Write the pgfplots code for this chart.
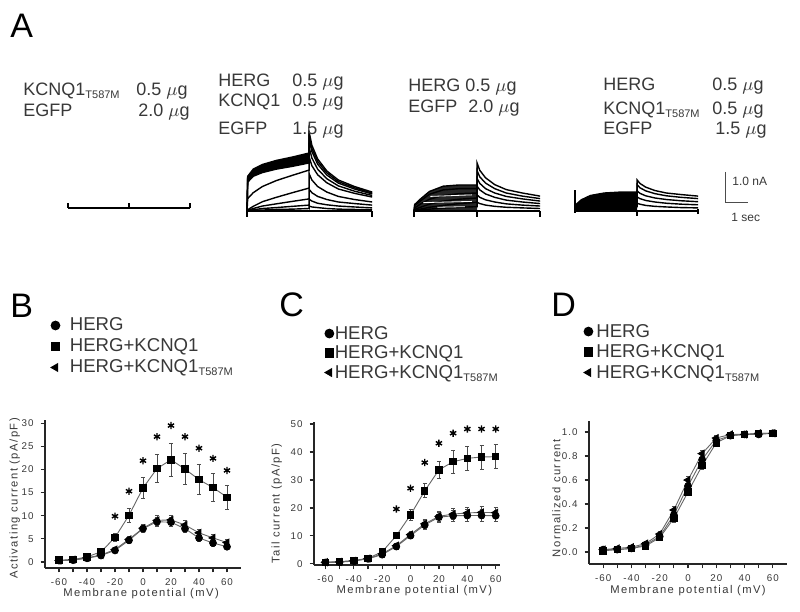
\documentclass[border=0pt]{standalone}
\usepackage{fontspec}
\setmainfont{Liberation Sans}
\newfontfamily\axf[LetterSpace=13]{Liberation Sans}
\newfontfamily\tkf[LetterSpace=10]{Liberation Sans}
\usepackage{pgfplots}
\pgfplotsset{compat=1.18}
\definecolor{txt}{gray}{0.22}
\newcommand\tsub[2]{\raisebox{-#2}{\fontsize{#1}{#1}\selectfont T587M}}
\pgfplotsset{
  panel/.style={
    scale only axis, clip=false,
    axis lines=left, axis line style={-, line width=0.75pt, black!85},
    tick align=outside, tick style={line width=0.6pt, black!85},
    major tick length=2.2pt, minor tick length=2.2pt,
    xmin=-70, xmax=70,
    xtick={-60,-40,-20,0,20,40,60}, xticklabels={-60,-40,-20,0,20,40,60},
    minor xtick={-50,-30,-10,10,30,50},
    tick label style={font=\tkf\fontsize{4.9}{5.5}\selectfont, text=txt},
    xticklabel style={yshift=0.6pt},
    label style={font=\axf\fontsize{5.6}{6.5}\selectfont, text=txt},
    xlabel={Membrane potential (mV)},
    legend cell align=left,
    legend style={draw=none, fill=none, anchor=north west, inner sep=0pt, outer sep=0pt,
      font=\fontsize{9.3}{10}\selectfont, text=txt, nodes={inner sep=0pt},
      /tikz/every even column/.append style={text height=7pt, text depth=2pt}},
    legend image code/.code={\draw[##1, mark size=2.2pt] plot coordinates {(0pt,0pt)};},
  },
  sq/.style={black!60, line width=0.45pt, mark=square*, mark size=1.6pt, mark options={solid, fill=black, draw=black}},
  ci/.style={black!60, line width=0.45pt, mark=*, mark size=1.7pt, mark options={solid, fill=black, draw=black}},
  tr/.style={black!60, line width=0.45pt, mark=triangle*, mark size=2pt, mark options={solid, fill=black, draw=black, rotate=90}},
  eb/.style={error bars/.cd, y dir=both, y explicit, error bar style={line width=0.4pt, black!70}, error mark options={rotate=90, mark size=1pt, line width=0.4pt, black!70}},
  st/.style={only marks, mark=asterisk, mark size=1.8pt, black, line width=0.7pt, forget plot},
  tc/.style={black, line width=0.7pt},
}
\begin{document}
\begin{tikzpicture}
\path[use as bounding box] (0,0) rectangle (400pt,306pt);

% ---------- Panel A: current traces ----------
\begin{axis}[hide axis, scale only axis, clip=false, at={(30pt,191pt)}, anchor=south west,
  width=350pt, height=52.5pt, xmin=0, xmax=30.43, ymin=-0.613, ymax=2.774]
% trace 1: KCNQ1 T587M alone
\addplot[tc] coordinates {(0.35,0.1)(5.65,0.1)};
\addplot[tc] coordinates {(0.35,0.1)(0.35,0.26)};
\addplot[tc] coordinates {(3.0,0.1)(3.0,0.26)};
\addplot[tc] coordinates {(5.65,0.1)(5.65,0.26)};
% trace 2: HERG + KCNQ1
\addplot[black!55, line width=0.5pt] coordinates {(10.83,0)(10.83,2.55)};
\addplot[fill=black, draw=none] coordinates {(8.16,1.12)(8.40,1.35)(8.80,1.50)(9.40,1.63)(10.10,1.74)(10.83,1.87)(10.83,1.55)(10.10,1.44)(9.40,1.35)(8.80,1.24)(8.40,1.12)(8.16,0.93)};
\addplot[tc] coordinates {(8.13,0)(8.16,1.12)(8.40,1.35)(8.80,1.50)(9.40,1.63)(10.10,1.74)(10.83,1.87)(10.83,2.55)(10.95,2.12)(11.20,1.68)(11.60,1.29)(12.10,1.00)(12.80,0.79)(13.57,0.61)};
\addplot[tc] coordinates {(8.13,0)(8.16,1.08)(8.40,1.30)(8.80,1.44)(9.40,1.57)(10.10,1.67)(10.83,1.80)(10.83,2.42)(10.95,2.02)(11.20,1.60)(11.60,1.23)(12.10,0.95)(12.80,0.75)(13.57,0.58)};
\addplot[tc] coordinates {(8.13,0)(8.16,1.03)(8.40,1.24)(8.80,1.38)(9.40,1.50)(10.10,1.60)(10.83,1.72)(10.83,2.30)(10.95,1.92)(11.20,1.51)(11.60,1.16)(12.10,0.90)(12.80,0.71)(13.57,0.55)};
\addplot[tc] coordinates {(8.13,0)(8.16,0.93)(8.40,1.12)(8.80,1.24)(9.40,1.35)(10.10,1.44)(10.83,1.55)(10.83,2.05)(10.95,1.71)(11.20,1.35)(11.60,1.04)(12.10,0.81)(12.80,0.64)(13.57,0.50)};
\addplot[tc] coordinates {(8.13,0)(8.16,0.40)(8.40,0.59)(8.80,0.79)(9.40,0.98)(10.10,1.15)(10.83,1.32)(10.83,1.75)(10.95,1.46)(11.20,1.17)(11.60,0.91)(12.10,0.71)(12.80,0.57)(13.57,0.45)};
\addplot[tc] coordinates {(8.13,0)(8.16,0.04)(8.40,0.15)(8.80,0.30)(9.40,0.44)(10.10,0.59)(10.83,0.74)(10.83,1.20)(10.95,1.00)(11.20,0.79)(11.60,0.61)(12.10,0.47)(12.80,0.37)(13.57,0.29)};
\addplot[tc] coordinates {(8.13,0)(8.16,0.02)(8.40,0.08)(8.80,0.16)(9.40,0.23)(10.10,0.31)(10.83,0.39)(10.83,0.70)(10.95,0.59)(11.20,0.47)(11.60,0.37)(12.10,0.29)(12.80,0.24)(13.57,0.19)};
\addplot[tc] coordinates {(8.13,0)(8.40,0.04)(8.80,0.08)(9.40,0.11)(10.10,0.15)(10.83,0.19)(10.83,0.38)(10.95,0.32)(11.20,0.25)(11.60,0.20)(12.10,0.16)(12.80,0.13)(13.57,0.10)};
\addplot[tc] coordinates {(8.13,0)(8.40,0.02)(8.80,0.03)(9.40,0.05)(10.10,0.06)(10.83,0.08)(10.83,0.16)(10.95,0.13)(11.20,0.11)(11.60,0.08)(12.10,0.06)(12.80,0.05)(13.57,0.04)};
\addplot[black, line width=1.1pt] coordinates {(8.13,0)(13.57,0)};
\addplot[tc] coordinates {(8.13,0)(8.13,-0.18)};
\addplot[tc] coordinates {(13.57,0)(13.57,-0.18)};
% trace 3: HERG alone
\addplot[fill=black!85, draw=none] coordinates {(15.39,0)(15.42,0.21)(15.66,0.38)(16.06,0.63)(16.66,0.80)(17.36,0.84)(18.13,0.84)(18.13,0)};
\addplot[tc] coordinates {(15.39,0)(15.42,0.21)(15.66,0.38)(16.06,0.63)(16.66,0.80)(17.36,0.84)(18.13,0.84)(18.13,1.55)(18.25,1.31)(18.50,1.07)(18.90,0.85)(19.40,0.69)(20.10,0.58)(20.87,0.48)};
\addplot[tc] coordinates {(15.39,0)(15.42,0.18)(15.66,0.32)(16.06,0.54)(16.66,0.68)(17.36,0.72)(18.13,0.72)(18.13,1.30)(18.25,1.10)(18.50,0.90)(18.90,0.72)(19.40,0.58)(20.10,0.48)(20.87,0.40)};
\addplot[tc] coordinates {(15.39,0)(15.42,0.10)(15.66,0.22)(16.06,0.38)(16.66,0.50)(17.36,0.56)(18.13,0.58)(18.13,1.05)(18.25,0.89)(18.50,0.72)(18.90,0.58)(19.40,0.47)(20.10,0.39)(20.87,0.32)};
\addplot[tc] coordinates {(15.39,0)(15.42,0.05)(15.66,0.12)(16.06,0.22)(16.66,0.32)(17.36,0.38)(18.13,0.42)(18.13,0.80)(18.25,0.68)(18.50,0.55)(18.90,0.44)(19.40,0.35)(20.10,0.29)(20.87,0.24)};
\addplot[tc] coordinates {(15.39,0)(15.42,0.02)(15.66,0.06)(16.06,0.12)(16.66,0.18)(17.36,0.24)(18.13,0.28)(18.13,0.52)(18.25,0.44)(18.50,0.36)(18.90,0.29)(19.40,0.23)(20.10,0.19)(20.87,0.16)};
\addplot[tc] coordinates {(15.39,0)(15.66,0.03)(16.06,0.06)(16.66,0.09)(17.36,0.12)(18.13,0.14)(18.13,0.28)(18.25,0.24)(18.50,0.19)(18.90,0.15)(19.40,0.12)(20.10,0.10)(20.87,0.08)};
\addplot[white, line width=0.4pt] coordinates {(15.8,0.27)(17.9,0.31)};
\addplot[white, line width=0.4pt] coordinates {(16.1,0.47)(17.9,0.52)};
\addplot[white, line width=0.4pt] coordinates {(16.4,0.12)(17.6,0.14)};
\addplot[black, line width=1.1pt] coordinates {(15.39,0)(20.87,0)};
\addplot[tc] coordinates {(15.39,0)(15.39,-0.18)};
\addplot[tc] coordinates {(18.13,0)(18.13,-0.18)};
\addplot[tc] coordinates {(20.87,0)(20.87,-0.18)};
% trace 4: HERG + KCNQ1 T587M
\addplot[fill=black, draw=none] coordinates {(22.39,0)(22.42,0.20)(22.66,0.36)(23.06,0.50)(23.66,0.58)(24.36,0.61)(25.09,0.61)(25.09,0)};
\addplot[tc] coordinates {(22.39,0)(22.42,0.20)(22.66,0.36)(23.06,0.50)(23.66,0.58)(24.36,0.61)(25.09,0.61)(25.09,1.00)(25.21,0.89)(25.46,0.77)(25.86,0.66)(26.36,0.58)(27.00,0.53)(27.74,0.48)};
\addplot[tc] coordinates {(22.39,0)(22.42,0.15)(22.66,0.30)(23.06,0.42)(23.66,0.49)(24.36,0.52)(25.09,0.52)(25.09,0.85)(25.21,0.75)(25.46,0.65)(25.86,0.56)(26.36,0.49)(27.00,0.44)(27.74,0.40)};
\addplot[tc] coordinates {(22.39,0)(22.42,0.08)(22.66,0.18)(23.06,0.29)(23.66,0.36)(24.36,0.39)(25.09,0.40)(25.09,0.65)(25.21,0.57)(25.46,0.49)(25.86,0.42)(26.36,0.37)(27.00,0.33)(27.74,0.30)};
\addplot[tc] coordinates {(22.39,0)(22.42,0.03)(22.66,0.08)(23.06,0.15)(23.66,0.21)(24.36,0.25)(25.09,0.27)(25.09,0.45)(25.21,0.40)(25.46,0.34)(25.86,0.29)(26.36,0.25)(27.00,0.22)(27.74,0.20)};
\addplot[tc] coordinates {(22.39,0)(22.66,0.03)(23.06,0.07)(23.66,0.10)(24.36,0.12)(25.09,0.14)(25.09,0.25)(25.21,0.22)(25.46,0.18)(25.86,0.15)(26.36,0.13)(27.00,0.11)(27.74,0.10)};
\addplot[black, line width=1.1pt] coordinates {(22.39,0)(27.74,0)};
\addplot[tc] coordinates {(22.39,-0.05)(22.39,0.68)};
\addplot[tc] coordinates {(25.09,0)(25.09,-0.15)};
\addplot[tc] coordinates {(27.74,-0.1)(27.74,0.05)};
% scale bar
\addplot[black!70, line width=0.5pt] coordinates {(28.91,1.258)(28.91,0.258)(29.91,0.258)};
\end{axis}

% ---------- Panel A: labels ----------
\begin{scope}[every node/.style={anchor=base west, inner sep=0pt, text=txt, font=\fontsize{9}{10}\selectfont}]
\node at (11.5pt,258pt) {KCNQ1\tsub{5.5}{1.2pt}};
\node at (68pt,258pt) {0.5 $\mu$g};
\node at (11.5pt,247.5pt) {EGFP};
\node at (69pt,247.5pt) {2.0 $\mu$g};
\node at (109pt,262.5pt) {HERG};
\node at (146pt,262.5pt) {0.5 $\mu$g};
\node at (109pt,252.5pt) {KCNQ1};
\node at (146pt,252.5pt) {0.5 $\mu$g};
\node at (109pt,238.5pt) {EGFP};
\node at (146pt,238.5pt) {1.5 $\mu$g};
\node at (204pt,260pt) {HERG};
\node at (232.5pt,260pt) {0.5 $\mu$g};
\node at (204pt,249.5pt) {EGFP};
\node at (234pt,249.5pt) {2.0 $\mu$g};
\node at (301.5pt,260.5pt) {HERG};
\node at (356pt,260.5pt) {0.5 $\mu$g};
\node at (301.5pt,248.5pt) {KCNQ1\tsub{5.5}{1.2pt}};
\node at (356pt,248.5pt) {0.5 $\mu$g};
\node at (301.5pt,238.5pt) {EGFP};
\node at (357.5pt,238.5pt) {1.5 $\mu$g};
\node[font=\fontsize{6}{7}\selectfont] at (366pt,213pt) {1.0 nA};
\node[font=\fontsize{6}{7}\selectfont] at (365.5pt,195pt) {1 sec};
\end{scope}
\begin{scope}[every node/.style={anchor=base west, inner sep=0pt, text=black, font=\fontsize{17}{17}\selectfont}]
\node at (5pt,287pt) {A};
\node at (5pt,147pt) {B};
\node at (139.5pt,147.5pt) {C};
\node at (275.5pt,147.5pt) {D};
\end{scope}

% ---------- Panel B ----------
\begin{axis}[panel, at={(22.5pt,22pt)}, anchor=south west, width=98pt, height=74pt,
  ymin=-1.3, ymax=30.7, ytick={0,5,10,15,20,25,30}, yticklabels={0,5,10,15,20,25,30},
  ylabel={Activating current (pA/pF)},
  ylabel style={at={(axis description cs:-0.155,0.47)}, anchor=center},
  xlabel style={at={(axis description cs:0.49,-0.172)}, anchor=center},
  legend style={at={(axis description cs:0.031,1.696)}, row sep=2pt,
    /tikz/every odd column/.append style={column sep=5pt}}]
\addplot[ci, eb] coordinates {(-60,0.3)+-(0,0.1)(-50,0.4)+-(0,0.1)(-40,0.8)+-(0,0.2)(-30,1.4)+-(0,0.3)(-20,2.5)+-(0,0.4)(-10,4.7)+-(0,0.6)(0,7.2)+-(0,0.8)(10,8.7)+-(0,1.0)(20,8.6)+-(0,1.0)(30,7.2)+-(0,0.9)(40,5.2)+-(0,0.8)(50,4.1)+-(0,0.7)(60,3.3)+-(0,0.6)};
\addlegendentry{HERG}
\addplot[sq, eb] coordinates {(-60,0.4)+-(0,0.2)(-50,0.5)+-(0,0.2)(-40,1.1)+-(0,0.3)(-30,2.2)+-(0,0.5)(-20,5.3)+-(0,0.8)(-10,10.1)+-(0,1.5)(0,16.0)+-(0,2.2)(10,20.2)+-(0,3.0)(20,22.1)+-(0,3.6)(30,20.1)+-(0,3.4)(40,17.8)+-(0,3.2)(50,16.1)+-(0,3.0)(60,14.0)+-(0,2.6)};
\addlegendentry{HERG+KCNQ1}
\addplot[tr, eb] coordinates {(-60,0.3)+-(0,0.1)(-50,0.5)+-(0,0.1)(-40,0.9)+-(0,0.2)(-30,1.5)+-(0,0.3)(-20,2.7)+-(0,0.4)(-10,4.9)+-(0,0.6)(0,7.3)+-(0,0.8)(10,9.0)+-(0,1.0)(20,9.1)+-(0,1.0)(30,8.0)+-(0,0.9)(40,6.3)+-(0,0.8)(50,5.2)+-(0,0.7)(60,4.2)+-(0,0.6)};
\addlegendentry{HERG+KCNQ1\tsub{5.5}{1.5pt}}
\addplot[st] coordinates {(-20,9.9)(-10,15.3)(0,21.9)(10,27.1)(20,29.5)(30,27.1)(40,24.6)(50,22.4)(60,19.8)};
\end{axis}

% ---------- Panel C ----------
\begin{axis}[panel, at={(157pt,23.5pt)}, anchor=south west, width=93pt, height=71.5pt,
  xmin=-68, xmax=63,
  ymin=-0.4, ymax=50.7, ytick={0,10,20,30,40,50}, yticklabels={0,10,20,30,40,50},
  ylabel={Tail current (pA/pF)},
  ylabel style={at={(axis description cs:-0.2,0.43)}, anchor=center},
  xlabel style={at={(axis description cs:0.54,-0.18)}, anchor=center},
  legend style={at={(axis description cs:0.059,1.678)}, row sep=1.25pt,
    /tikz/every odd column/.append style={column sep=0.5pt}}]
\addplot[ci, eb] coordinates {(-60,0.5)+-(0,0.2)(-50,0.6)+-(0,0.2)(-40,1.0)+-(0,0.3)(-30,1.8)+-(0,0.4)(-20,3.3)+-(0,0.5)(-10,6.2)+-(0,0.8)(0,10.1)+-(0,1.0)(10,13.9)+-(0,1.5)(20,16.7)+-(0,1.8)(30,17.2)+-(0,2.0)(40,17.3)+-(0,2.0)(50,17.3)+-(0,2.0)(60,17.2)+-(0,2.0)};
\addlegendentry{HERG}
\addplot[sq, eb] coordinates {(-60,0.6)+-(0,0.2)(-50,0.8)+-(0,0.2)(-40,1.2)+-(0,0.3)(-30,2.0)+-(0,0.4)(-20,4.3)+-(0,0.6)(-10,10.1)+-(0,1.0)(0,17.5)+-(0,1.8)(10,26.1)+-(0,2.5)(20,33.6)+-(0,3.0)(30,36.5)+-(0,4.0)(40,37.7)+-(0,4.2)(50,38.2)+-(0,4.3)(60,38.3)+-(0,4.3)};
\addlegendentry{HERG+KCNQ1}
\addplot[tr, eb] coordinates {(-60,0.6)+-(0,0.2)(-50,0.7)+-(0,0.2)(-40,1.1)+-(0,0.3)(-30,1.9)+-(0,0.4)(-20,3.6)+-(0,0.5)(-10,6.5)+-(0,0.8)(0,10.5)+-(0,1.0)(10,14.3)+-(0,1.5)(20,17.0)+-(0,1.8)(30,17.8)+-(0,2.0)(40,18.2)+-(0,2.0)(50,18.4)+-(0,2.0)(60,18.3)+-(0,2.0)};
\addlegendentry{HERG+KCNQ1\tsub{5.5}{1.5pt}}
\addplot[st] coordinates {(-10,19.6)(0,27.0)(10,36.2)(20,43.1)(30,46.7)(40,48.2)(50,48.2)(60,48.2)};
\end{axis}

% ---------- Panel D ----------
\begin{axis}[panel, at={(294.5pt,24pt)}, anchor=south west, width=99pt, height=71.5pt,
  ymin=-0.1, ymax=1.092, ytick={0,0.2,0.4,0.6,0.8,1}, yticklabels={0.0,0.2,0.4,0.6,0.8,1.0},
  ylabel={Normalized current},
  ylabel style={at={(axis description cs:-0.165,0.46)}, anchor=center},
  xlabel style={at={(axis description cs:0.5,-0.185)}, anchor=center},
  legend style={at={(axis description cs:-0.025,1.685)}, row sep=1.75pt,
    /tikz/every odd column/.append style={column sep=1.75pt}}]
\addplot[ci, eb] coordinates {(-60,0.02)+-(0,0.01)(-50,0.02)+-(0,0.01)(-40,0.03)+-(0,0.01)(-30,0.06)+-(0,0.01)(-20,0.13)+-(0,0.02)(-10,0.31)+-(0,0.03)(0,0.55)+-(0,0.03)(10,0.77)+-(0,0.03)(20,0.93)+-(0,0.02)(30,0.97)+-(0,0.01)(40,0.98)+-(0,0.01)(50,0.98)+-(0,0.01)(60,0.99)+-(0,0.01)};
\addlegendentry{HERG}
\addplot[sq, eb] coordinates {(-60,0.01)+-(0,0.01)(-50,0.02)+-(0,0.01)(-40,0.03)+-(0,0.01)(-30,0.05)+-(0,0.01)(-20,0.12)+-(0,0.02)(-10,0.28)+-(0,0.03)(0,0.50)+-(0,0.03)(10,0.72)+-(0,0.03)(20,0.91)+-(0,0.02)(30,0.97)+-(0,0.01)(40,0.98)+-(0,0.01)(50,0.99)+-(0,0.01)(60,0.99)+-(0,0.01)};
\addlegendentry{HERG+KCNQ1}
\addplot[tr, eb] coordinates {(-60,0.02)+-(0,0.01)(-50,0.03)+-(0,0.01)(-40,0.04)+-(0,0.01)(-30,0.07)+-(0,0.01)(-20,0.15)+-(0,0.02)(-10,0.35)+-(0,0.03)(0,0.60)+-(0,0.03)(10,0.82)+-(0,0.03)(20,0.95)+-(0,0.02)(30,0.98)+-(0,0.01)(40,0.98)+-(0,0.01)(50,0.99)+-(0,0.01)(60,0.99)+-(0,0.01)};
\addlegendentry{HERG+KCNQ1\tsub{5.5}{1.5pt}}
\end{axis}
\end{tikzpicture}
\end{document}
